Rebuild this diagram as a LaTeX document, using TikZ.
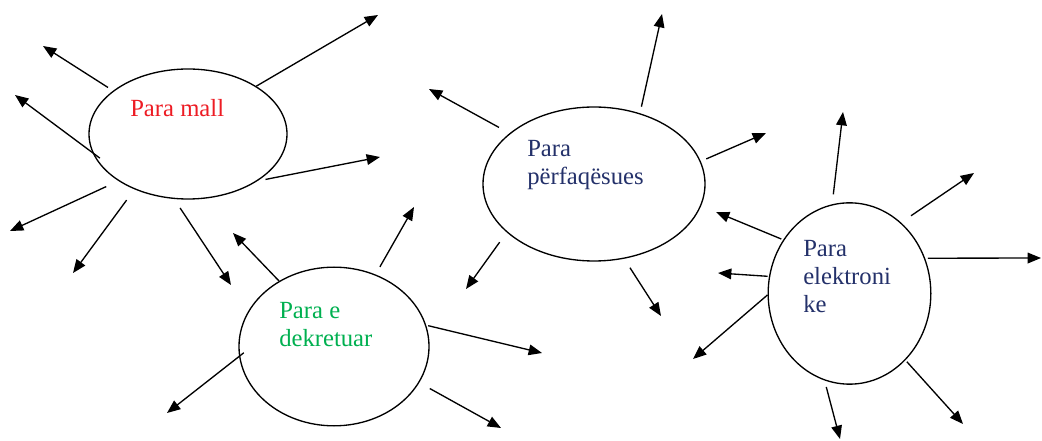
\documentclass[tikz,border=0pt]{standalone}
\usepackage{fontspec}
\setmainfont{Liberation Serif}
\usepackage{xcolor}
\usetikzlibrary{arrows.meta, shapes.geometric}

\definecolor{mallred}{RGB}{237,28,36}
\definecolor{dekgreen}{RGB}{0,176,80}
\definecolor{paranavy}{RGB}{36,49,106}

\begin{document}
\begin{tikzpicture}[x=0.75pt, y=-0.75pt,
  oval/.style={draw, ellipse, line width=1pt, inner sep=0pt},
  txt/.style={anchor=base west, inner sep=0pt, align=left, font=\fontsize{18.5}{21}\selectfont},
  arr/.style={-{Triangle[length=10pt, width=8pt]}, line width=1pt},
]
  \useasboundingbox (0,0) rectangle (1042,441);

  % Para mall
  \node[oval, minimum width=148.5pt, minimum height=97.5pt] (mall) at (188,134) {};
  \node[txt, text=mallred] (mall-txt) at (130,117) {Para mall};

  % Para e dekretuar (text placed at its last baseline)
  \node[oval, minimum width=142.5pt, minimum height=119pt] (dekretuar) at (334,346.5) {};
  \node[txt, text=dekgreen] (dekretuar-txt) at (279,347) {Para e\\dekretuar};

  % Para perfaqesues
  \node[oval, minimum width=166.5pt, minimum height=115.5pt] (perfaqesues) at (594,184) {};
  \node[txt, text=paranavy] (perfaqesues-txt) at (527,185) {Para\\përfaqësues};

  % Para elektronike
  \node[oval, minimum width=122pt, minimum height=136pt] (elektronike) at (849.5,293.5) {};
  \node[txt, text=paranavy] (elektronike-txt) at (803,313) {Para\\elektroni\\ke};

  % Arrows
  \foreach \a/\s/\x/\y [count=\i] in {150/4.5pt/43/46, 191/-7pt/15/95, 35/0pt/378/15,
      326/6pt/380/157, 214/10pt/10/231, 226/10pt/73/273, 258/8pt/231/285}
  {
    \coordinate (mall-t\i) at (\x,\y);
    \draw[arr, shorten <=\s] (mall.\a) -- (mall-t\i);
  }
  \foreach \a/\s/\x/\y [count=\i] in {130/0pt/233/233, 60.5/6.5pt/414/207, 13.6/1.5pt/542/353,
      337.6/9pt/501/428, 186/-4.5pt/167/413}
  {
    \coordinate (dekretuar-t\i) at (\x,\y);
    \draw[arr, shorten <=\s] (dekretuar.\a) -- (dekretuar-t\i);
  }
  \foreach \a/\s/\x/\y [count=\i] in {149.5/9pt/429/89, 57.2/5pt/662/14, 12.1/4.5pt/766/133,
      209.8/9pt/466/289, 292.6/8pt/661/316}
  {
    \coordinate (perfaqesues-t\i) at (\x,\y);
    \draw[arr, shorten <=\s] (perfaqesues.\a) -- (perfaqesues-t\i);
  }
  \foreach \a/\s/\x/\y [count=\i] in {101.8/7.5pt/843/112, 54.5/9pt/974/173, 25.5/2pt/1041/258,
      310.4/1.5pt/963/424, 254/5pt/840/439, 181.8/0pt/693/359, 168.6/1pt/718/273, 141.1/1.5pt/716/212}
  {
    \coordinate (elektronike-t\i) at (\x,\y);
    \draw[arr, shorten <=\s] (elektronike.\a) -- (elektronike-t\i);
  }
\end{tikzpicture}
\end{document}
